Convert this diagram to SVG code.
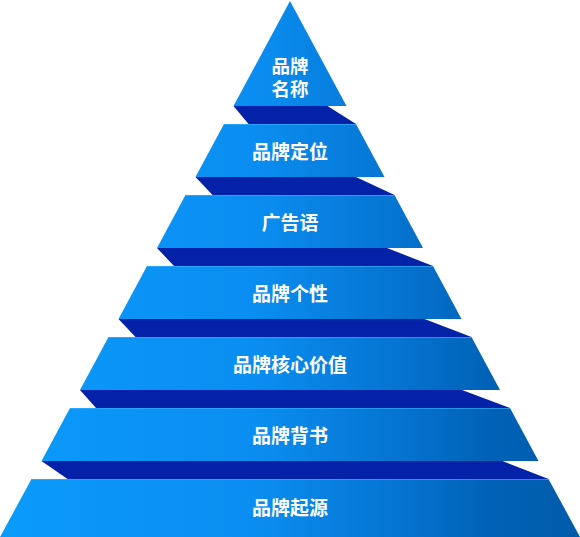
<svg xmlns="http://www.w3.org/2000/svg" width="580" height="537" viewBox="0 0 580 537">
<defs>
<linearGradient id="face" gradientUnits="userSpaceOnUse" x1="0" y1="0" x2="580" y2="0">
<stop offset="0" stop-color="#0A9BFB"/>
<stop offset="0.45" stop-color="#0A8DF0"/>
<stop offset="0.7" stop-color="#0572CF"/>
<stop offset="0.85" stop-color="#0062B6"/>
<stop offset="1" stop-color="#005BAA"/>
</linearGradient>
</defs>
<style>
.face{fill:url(#face);}
.band{fill:#0322A8;}
.hl{stroke:#3DB2FF;stroke-width:1;opacity:0.6;fill:none;}
.lbl{fill:#FFFFFF;font-family:"Noto Sans CJK SC","Noto Sans",sans-serif;font-weight:bold;font-size:19px;text-anchor:middle;dominant-baseline:central;}
.tri{font-size:18.5px;}
</style>
<g id="bands">
<polygon class="band" points="233.5,106 327.5,106 356,124 248.5,124"/>
<polygon class="band" points="195.5,177 356,177 394.5,195 212.5,195"/>
<polygon class="band" points="157,248 387,248 433,266 174,266"/>
<polygon class="band" points="118.5,319 424.5,319 471.5,337 135.5,337"/>
<polygon class="band" points="80,390 462,390 510,408 96,408"/>
<polygon class="band" points="41.5,461 502.5,461 548.5,479 67.5,479"/>
</g>
<g id="brand-name">
<polygon class="face" points="290,1 346.5,106 233.5,106"/>
<text class="lbl tri" x="290" y="64.5">品牌<tspan x="290" dy="23">名称</tspan></text>
</g>
<g id="brand-positioning">
<polygon class="face" points="224,124 356,124 384.5,177 195.5,177"/>
<line class="hl" x1="224" y1="124.5" x2="356" y2="124.5"/>
<text class="lbl" x="290" y="150">品牌定位</text>
</g>
<g id="slogan">
<polygon class="face" points="185.5,195 394.5,195 423,248 157,248"/>
<line class="hl" x1="185.5" y1="195.5" x2="394.5" y2="195.5"/>
<text class="lbl" x="290" y="221">广告语</text>
</g>
<g id="brand-personality">
<polygon class="face" points="147,266 433,266 461.5,319 118.5,319"/>
<line class="hl" x1="147" y1="266.5" x2="433" y2="266.5"/>
<text class="lbl" x="290" y="292">品牌个性</text>
</g>
<g id="brand-core-value">
<polygon class="face" points="108.5,337 471.5,337 500,390 80,390"/>
<line class="hl" x1="108.5" y1="337.5" x2="471.5" y2="337.5"/>
<text class="lbl" x="290" y="363">品牌核心价值</text>
</g>
<g id="brand-endorsement">
<polygon class="face" points="70,408 510,408 538.5,461 41.5,461"/>
<line class="hl" x1="70" y1="408.5" x2="510" y2="408.5"/>
<text class="lbl" x="290" y="434">品牌背书</text>
</g>
<g id="brand-origin">
<polygon class="face" points="31.5,479 548.5,479 580,537 0,537"/>
<line class="hl" x1="31.5" y1="479.5" x2="548.5" y2="479.5"/>
<text class="lbl" x="290" y="506">品牌起源</text>
</g>
</svg>
